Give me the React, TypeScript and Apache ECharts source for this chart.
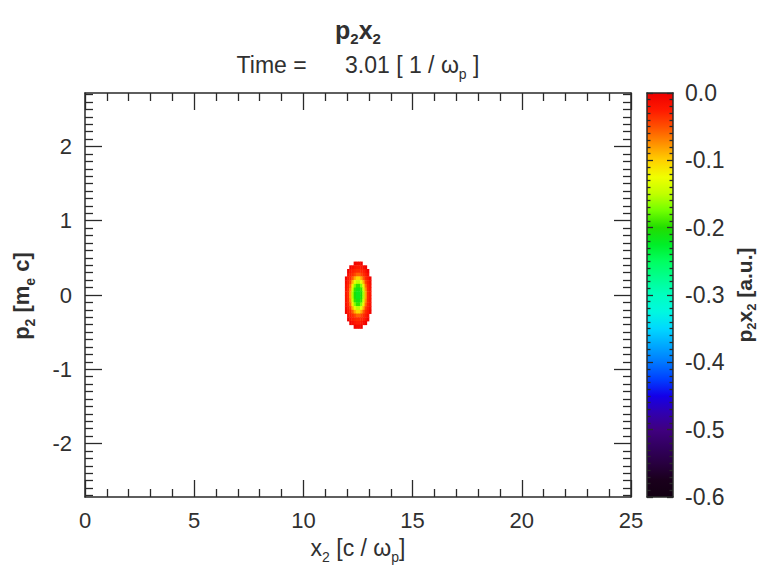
import React, { useEffect, useRef } from 'react';
import * as echarts from 'echarts';

// ---------- data ----------
const X_MAJOR = [0, 5, 10, 15, 20, 25];
const Y_MAJOR = [-2, -1, 0, 1, 2];
const CB_MAJOR = [-0.6, -0.5, -0.4, -0.3, -0.2, -0.1, 0.0];
const X_RANGE = [0, 25];
const Y_RANGE = [-2.72, 2.72];
const CB_RANGE = [-0.6, 0];

// blob cells: x centers (c/wp), p centers (me c), values (a.u.)
const BLOB_X = [11.95, 12.05, 12.15, 12.25, 12.35, 12.45, 12.55, 12.65, 12.75, 12.85, 12.95, 13.05];
const BLOB_P = [0.425, 0.375, 0.325, 0.275, 0.225, 0.175, 0.125, 0.075, 0.025,
  -0.025, -0.075, -0.125, -0.175, -0.225, -0.275, -0.325, -0.375, -0.425];
const BLOB_V = [
  [0, 0, 0, 0, -0.004, -0.010, -0.010, -0.004, 0, 0, 0, 0],
  [0, 0, -0.003, -0.014, -0.022, -0.026, -0.026, -0.022, -0.014, -0.003, 0, 0],
  [0, -0.003, -0.018, -0.027, -0.031, -0.034, -0.034, -0.031, -0.027, -0.018, -0.003, 0],
  [0, -0.014, -0.027, -0.034, -0.045, -0.058, -0.058, -0.045, -0.034, -0.027, -0.014, 0],
  [-0.005, -0.023, -0.032, -0.055, -0.085, -0.105, -0.105, -0.085, -0.055, -0.032, -0.023, -0.005],
  [-0.012, -0.027, -0.043, -0.088, -0.128, -0.150, -0.150, -0.128, -0.088, -0.043, -0.027, -0.012],
  [-0.018, -0.030, -0.062, -0.118, -0.168, -0.195, -0.195, -0.168, -0.118, -0.062, -0.030, -0.018],
  [-0.020, -0.032, -0.076, -0.142, -0.195, -0.212, -0.212, -0.195, -0.142, -0.076, -0.032, -0.020],
  [-0.022, -0.034, -0.085, -0.155, -0.203, -0.218, -0.218, -0.203, -0.155, -0.085, -0.034, -0.022],
  [-0.022, -0.034, -0.085, -0.155, -0.203, -0.218, -0.218, -0.203, -0.155, -0.085, -0.034, -0.022],
  [-0.020, -0.032, -0.076, -0.142, -0.195, -0.212, -0.212, -0.195, -0.142, -0.076, -0.032, -0.020],
  [-0.018, -0.030, -0.062, -0.118, -0.168, -0.195, -0.195, -0.168, -0.118, -0.062, -0.030, -0.018],
  [-0.012, -0.027, -0.043, -0.088, -0.128, -0.150, -0.150, -0.128, -0.088, -0.043, -0.027, -0.012],
  [-0.005, -0.023, -0.032, -0.055, -0.085, -0.105, -0.105, -0.085, -0.055, -0.032, -0.023, -0.005],
  [0, -0.014, -0.027, -0.034, -0.045, -0.058, -0.058, -0.045, -0.034, -0.027, -0.014, 0],
  [0, -0.003, -0.018, -0.027, -0.031, -0.034, -0.034, -0.031, -0.027, -0.018, -0.003, 0],
  [0, 0, -0.003, -0.014, -0.022, -0.026, -0.026, -0.022, -0.014, -0.003, 0, 0],
  [0, 0, 0, 0, -0.004, -0.010, -0.010, -0.004, 0, 0, 0, 0],
];
const CELL_DX = 0.1;
const CELL_DP = 0.05;

// colour table, from -0.6 (first) to 0.0 (last)
const PALETTE = ['#120012', '#1a001c', '#280040', '#320060', '#400080', '#3000b0', '#1400e8',
  '#0040ff', '#0078ff', '#00a8ff', '#00d8ff', '#00f8e0', '#00ffc0', '#00ff90', '#00ff60',
  '#00ee28', '#22dd00', '#70ff00', '#c0ff00', '#f0ff00', '#ffd000', '#ff9000', '#ff5000',
  '#ff1800', '#ee0000'];

// ---------- styles ----------
const FONT = '"Liberation Sans", Arial, Helvetica, sans-serif';
const TXT = '#303030';
const LINE = '#2a2a2a';
const LABEL_SIZE = 22;
const CB_LABEL_SIZE = 23;

const GRID_MAIN = { left: 85, top: 93, width: 546, height: 404 };
const GRID_CB = { left: 647, top: 93, width: 26, height: 404 };

function minorList(lo: number, hi: number, div: number, skip: number) {
  const out: number[] = [];
  for (let i = lo; i <= hi; i++) if (i % skip !== 0) out.push(i / div);
  return out;
}

function axis(opts: any) {
  const { gridIndex, position, min, max, ticks, len, labels, line, fmt, margin, size } = opts;
  return {
    type: 'value',
    gridIndex,
    position,
    min,
    max,
    splitLine: { show: false },
    axisLine: { show: !!line, onZero: false, lineStyle: { color: LINE, width: 1.5 } },
    axisTick: ticks
      ? { show: true, customValues: ticks, inside: true, length: len, lineStyle: { color: LINE, width: 1.3 } }
      : { show: false },
    axisLabel: labels
      ? {
          show: true,
          customValues: labels,
          fontSize: size ?? LABEL_SIZE,
          fontFamily: FONT,
          color: TXT,
          margin: margin ?? 12,
          formatter: fmt,
        }
      : { show: false },
  };
}

function buildOption() {
  const blobData: number[][] = [];
  BLOB_P.forEach((p, i) =>
    BLOB_X.forEach((x, j) => {
      const v = BLOB_V[i][j];
      if (v !== 0) blobData.push([x, p, v]);
    })
  );

  const xMinor = minorList(0, 25, 1, 5);
  const yMinor = minorList(-27, 27, 10, 10);
  const cbMinor = minorList(-60, 0, 100, 10);
  const cbFmt = (v: number) => (Math.abs(v) < 1e-9 ? '0.0' : v.toFixed(1));

  const stops = PALETTE.slice()
    .reverse()
    .map((c, i) => ({ offset: i / (PALETTE.length - 1), color: c }));

  const sub = (size: number, bold: boolean, pad: number) => ({
    fontSize: size,
    fontFamily: FONT,
    fontWeight: bold ? 'bold' : 'normal',
    fill: TXT,
    padding: [pad, 0, 0, 0],
  });
  const norm = (size: number, bold: boolean) => ({
    fontSize: size,
    fontFamily: FONT,
    fontWeight: bold ? 'bold' : 'normal',
    fill: TXT,
  });

  return {
    animation: false,
    backgroundColor: '#ffffff',
    grid: [
      { ...GRID_MAIN, containLabel: false },
      { ...GRID_CB, containLabel: false },
    ],
    xAxis: [
      axis({ gridIndex: 0, position: 'bottom', min: X_RANGE[0], max: X_RANGE[1], ticks: X_MAJOR, len: 17, labels: X_MAJOR, line: true, margin: 12 }),
      axis({ gridIndex: 0, position: 'bottom', min: X_RANGE[0], max: X_RANGE[1], ticks: xMinor, len: 8 }),
      axis({ gridIndex: 0, position: 'top', min: X_RANGE[0], max: X_RANGE[1], ticks: X_MAJOR, len: 17, line: true }),
      axis({ gridIndex: 0, position: 'top', min: X_RANGE[0], max: X_RANGE[1], ticks: xMinor, len: 8 }),
      axis({ gridIndex: 1, position: 'bottom', min: 0, max: 1, line: true }),
      axis({ gridIndex: 1, position: 'top', min: 0, max: 1, line: true }),
    ],
    yAxis: [
      axis({ gridIndex: 0, position: 'left', min: Y_RANGE[0], max: Y_RANGE[1], ticks: Y_MAJOR, len: 17, labels: Y_MAJOR, line: true, margin: 13 }),
      axis({ gridIndex: 0, position: 'left', min: Y_RANGE[0], max: Y_RANGE[1], ticks: yMinor, len: 8 }),
      axis({ gridIndex: 0, position: 'right', min: Y_RANGE[0], max: Y_RANGE[1], ticks: Y_MAJOR, len: 17, line: true }),
      axis({ gridIndex: 0, position: 'right', min: Y_RANGE[0], max: Y_RANGE[1], ticks: yMinor, len: 8 }),
      axis({ gridIndex: 1, position: 'right', min: CB_RANGE[0], max: CB_RANGE[1], ticks: CB_MAJOR, len: 6, labels: CB_MAJOR, line: true, fmt: cbFmt, margin: 12, size: CB_LABEL_SIZE }),
      axis({ gridIndex: 1, position: 'right', min: CB_RANGE[0], max: CB_RANGE[1], ticks: cbMinor, len: 3.5 }),
      axis({ gridIndex: 1, position: 'left', min: CB_RANGE[0], max: CB_RANGE[1], ticks: CB_MAJOR, len: 6, line: true }),
      axis({ gridIndex: 1, position: 'left', min: CB_RANGE[0], max: CB_RANGE[1], ticks: cbMinor, len: 3.5 }),
    ],
    visualMap: {
      type: 'continuous',
      show: false,
      min: CB_RANGE[0],
      max: CB_RANGE[1],
      dimension: 2,
      seriesIndex: 0,
      inRange: { color: PALETTE },
    },
    series: [
      {
        type: 'custom',
        coordinateSystem: 'cartesian2d',
        xAxisIndex: 0,
        yAxisIndex: 0,
        data: blobData,
        encode: { x: 0, y: 1 },
        renderItem: (params: any, api: any) => {
          const x = api.value(0);
          const p = api.value(1);
          const tl = api.coord([x - CELL_DX / 2, p + CELL_DP / 2]);
          const sz = api.size([CELL_DX, CELL_DP]);
          return {
            type: 'rect',
            shape: { x: tl[0], y: tl[1], width: sz[0] + 0.4, height: sz[1] + 0.4 },
            style: { fill: api.visual('color') },
          };
        },
      },
    ],
    graphic: [
      {
        type: 'rect',
        z: -1,
        shape: { x: GRID_CB.left, y: GRID_CB.top, width: GRID_CB.width, height: GRID_CB.height },
        style: { fill: new echarts.graphic.LinearGradient(0, 0, 0, 1, stops) },
      },
      {
        type: 'text',
        x: 358,
        y: 30,
        style: {
          text: '{b|p}{bs|2}{b|x}{bs|2}',
          align: 'center',
          verticalAlign: 'middle',
          fill: TXT,
          rich: { b: norm(25, true), bs: sub(15, true, 17) },
        },
      },
      {
        type: 'text',
        x: 358,
        y: 65,
        style: {
          text: '{n|Time =      3.01 [ 1 / ω}{s|p}{n| ]}',
          align: 'center',
          verticalAlign: 'middle',
          fill: TXT,
          rich: { n: norm(23, false), s: sub(14, false, 17) },
        },
      },
      {
        type: 'text',
        x: 358,
        y: 548,
        style: {
          text: '{n|x}{s|2}{n| [c / ω}{s|p}{n|]}',
          align: 'center',
          verticalAlign: 'middle',
          fill: TXT,
          rich: { n: norm(23, false), s: sub(14, false, 17) },
        },
      },
      {
        type: 'text',
        x: 21,
        y: 296,
        rotation: Math.PI / 2,
        style: {
          text: '{n|p}{s|2}{n| [m}{s|e}{n| c]}',
          align: 'center',
          verticalAlign: 'middle',
          fill: TXT,
          rich: { n: norm(22, true), s: sub(14, true, 17) },
        },
      },
      {
        type: 'text',
        x: 744,
        y: 295,
        rotation: Math.PI / 2,
        style: {
          text: '{n|p}{s|2}{n|x}{s|2}{n| [a.u.]}',
          align: 'center',
          verticalAlign: 'middle',
          fill: TXT,
          rich: { n: norm(21, true), s: sub(13, true, 14) },
        },
      },
    ],
  };
}

export default function App() {
  const ref = useRef<HTMLDivElement>(null);
  useEffect(() => {
    if (!ref.current) return;
    const chart = echarts.init(ref.current, null, { renderer: 'svg' });
    chart.setOption(buildOption() as any);
    return () => chart.dispose();
  }, []);
  return (
    <div
      ref={ref}
      style={{ position: 'absolute', left: 0, top: 0, width: 763, height: 565, background: '#fff' }}
    />
  );
}
